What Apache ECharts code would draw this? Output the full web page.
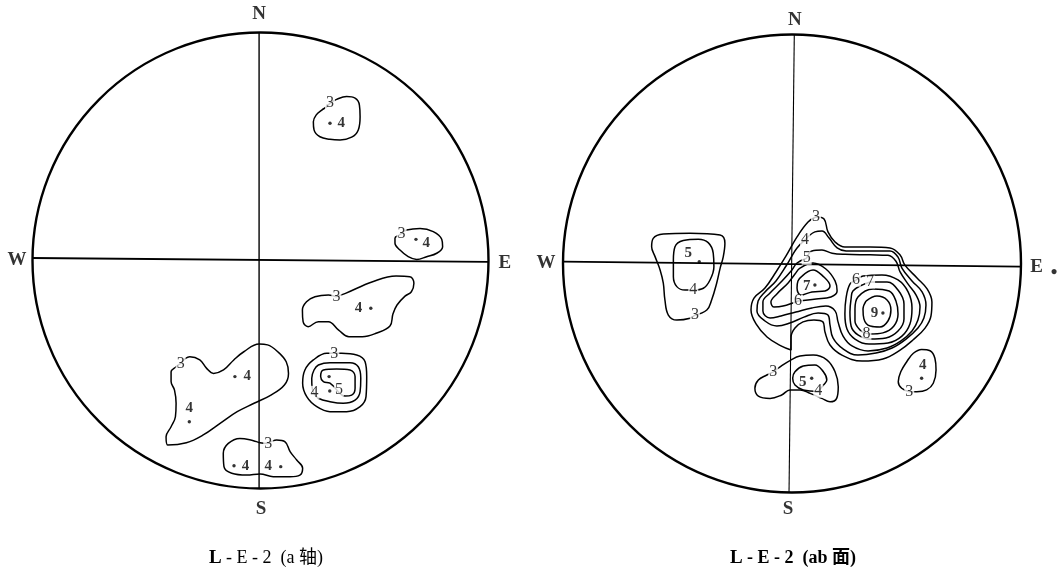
<!DOCTYPE html>
<html>
<head>
<meta charset="utf-8">
<script src="https://cdn.jsdelivr.net/npm/echarts@6/dist/echarts.min.js"></script>
<style>
  html, body { margin: 0; padding: 0; background: #fff; }
  #chart { width: 1057px; height: 576px; }
</style>
</head>
<body>
<div id="chart"></div>
<script>
// Net coordinates: the primitive circle has radius 100, east = +x, north = +y.

// ---- L-E-2 (a 轴) : contour lines ----
const aNorth3 = [[30.7,69.3],[33.6,70.9],[38.0,72.1],[41.7,71.4],[43.6,68.4],[43.9,63.3],[43.1,57.5],[40.2,54.3],[35.1,53.1],[30.7,53.4],[26.3,54.5],[23.7,57.5],[23.4,61.1],[24.6,64.0],[27.1,66.2],[29.3,67.7],[30.7,69.3]];
const aEast3 = [[62.1,12.1],[64.3,13.6],[70.2,14.3],[76.0,12.9],[79.7,9.5],[80.1,6.3],[77.5,3.4],[73.1,1.9],[68.7,0.7],[65.0,1.9],[61.4,4.8],[59.2,7.8],[59.2,10.0],[61.1,11.4],[62.1,12.1]];
const aMid3 = [[33.5,-15.7],[37.5,-14.2],[49.4,-9.1],[59.7,-6.6],[65.7,-6.9],[67.5,-9.8],[66.4,-13.5],[63.6,-15.4],[60.1,-19.3],[58.3,-23.2],[57.0,-28.5],[50.9,-31.7],[44.9,-33.2],[39.0,-33.2],[34.5,-30.3],[30.0,-26.6],[25.6,-26.6],[21.1,-28.8],[18.9,-26.6],[18.6,-21.5],[20.4,-17.9],[24.1,-15.7],[30.0,-14.9],[33.5,-15.7]];
const aSW3 = [[-34.8,-44.9],[-30.8,-42.0],[-26.4,-43.4],[-23.4,-47.1],[-20.4,-49.3],[-16.0,-47.8],[-11.5,-43.4],[-7.1,-39.8],[-0.4,-36.4],[3.3,-36.8],[7.8,-39.8],[11.5,-44.2],[12.5,-49.3],[10.7,-54.4],[4.8,-58.8],[-2.6,-62.4],[-10.0,-66.1],[-17.5,-71.2],[-24.9,-76.3],[-32.3,-79.7],[-40.5,-80.7],[-41.2,-77.1],[-39.0,-72.7],[-37.1,-68.3],[-36.8,-62.4],[-37.5,-56.6],[-39.0,-52.9],[-39.0,-48.6],[-36.8,-46.4],[-34.8,-44.9]];
const aRing3 = [[32.6,-40.5],[35.8,-40.5],[42.4,-41.2],[46.1,-44.2],[46.8,-50.7],[46.5,-59.5],[43.9,-63.9],[38.0,-66.1],[30.7,-66.1],[24.9,-63.9],[20.5,-59.5],[18.7,-53.6],[19.7,-47.8],[23.4,-43.4],[29.3,-40.5],[32.6,-40.5]];
const aRing4 = [[23.6,-58.0],[25.6,-60.2],[30.7,-61.7],[36.5,-62.4],[41.7,-61.0],[43.9,-57.3],[44.2,-51.4],[43.1,-46.4],[39.5,-44.6],[30.7,-44.6],[25.6,-45.6],[23.7,-47.8],[22.7,-51.4],[22.8,-55.0],[23.6,-58.0]];
const aRing5 = [[34.3,-57.3],[30.7,-53.6],[27.8,-52.9],[26.6,-50.7],[27.8,-47.8],[33.6,-47.4],[39.5,-47.8],[41.7,-50.7],[41.7,-55.8],[40.2,-58.8],[37.3,-59.2],[34.3,-57.3]];
const aSouth3 = [[3.6,-80.0],[7.3,-78.5],[11.0,-79.3],[13.2,-83.6],[16.1,-87.3],[18.7,-90.9],[17.5,-93.9],[13.2,-94.6],[5.8,-94.6],[0,-93.4],[-5.8,-93.9],[-12.4,-93.1],[-15.8,-90.2],[-16.1,-84.3],[-13.9,-80.0],[-8.8,-77.8],[-2.9,-78.8],[0,-79.7],[3.6,-80.0]];

// contour values written on the lines: [x, y, text]
const aLevelLabels = [[30.7,69.3,'3'],[62.1,12.1,'3'],[33.5,-15.7,'3'],[-34.8,-44.9,'3'],[32.6,-40.5,'3'],[23.9,-57.6,'4'],[34.6,-56.6,'5'],[3.6,-80.0,'3']];
// density maxima: dot position and the value printed beside it
const aPeakDots = [[30.7,60.4],[68.4,9.5],[48.6,-20.7],[-11.0,-50.7],[-31.0,-70.5],[30.3,-50.7],[30.6,-57.0],[-11.4,-89.8],[9.1,-90.2]];
const aPeakLabels = [[35.6,60.4,'4'],[72.9,7.8,'4'],[43.2,-20.7,'4'],[-5.6,-50.7,'4'],[-31.0,-64.6,'4'],[-6.4,-89.8,'4'],[3.6,-89.8,'4']];
const aCross = [[[-0.4,100],[-0.4,-100]],[[-100,1.3],[100,-0.4]]];
const aCompass = [[-0.4,108.5,'N'],[-106.6,0.4,'W'],[107.4,-0.9,'E'],[0.4,-108.8,'S']];

// ---- L-E-2 (ab 面) : contour lines ----
const abWest3 = [[-42.4,-22.5],[-44.5,-23.9],[-50.3,-24.7],[-54.0,-22.5],[-55.5,-15.9],[-56.2,-8.6],[-57.6,-2.8],[-59.8,3.0],[-61.3,7.3],[-60.6,11.0],[-56.2,12.9],[-44.5,13.2],[-31.4,12.4],[-29.3,8.8],[-30.0,3.0],[-31.4,-2.1],[-32.9,-8.6],[-35.1,-15.9],[-37.2,-20.3],[-42.4,-22.5]];
const abWest4 = [[-43.1,-11.6],[-46.7,-11.6],[-50.3,-10.1],[-51.8,-5.8],[-51.8,1.5],[-51.1,7.3],[-47.5,10.0],[-40.9,10.6],[-36.6,9.1],[-34.4,4.5],[-34.1,-1.4],[-35.8,-7.2],[-38.7,-10.8],[-43.1,-11.6]];
const abCore3 = [[10.5,20.4],[14.0,19.4],[15.7,13.8],[18.8,9.4],[23.1,7.2],[34.1,7.2],[42.8,6.8],[47.2,3.7],[49.3,-0.7],[54.6,-6.3],[59.0,-11.1],[61.1,-16.8],[60.7,-22.9],[58.1,-28.2],[52.8,-33.4],[47.2,-37.8],[39.7,-41.7],[30.6,-42.6],[21.8,-40.0],[16.6,-35.6],[14.4,-29.9],[13.5,-25.5],[9.6,-24.7],[4.8,-25.5],[1.3,-28.2],[-0.4,-32.1],[-0.4,-37.8],[-4.8,-36.0],[-10.9,-32.1],[-15.7,-26.4],[-17.9,-20.3],[-16.6,-15.1],[-11.8,-10.7],[-7.0,-3.7],[-2.6,3.3],[2.2,11.6],[7.0,18.1],[10.5,20.4]];
const abCore4 = [[5.7,10.3],[10.0,13.8],[13.1,14.2],[16.2,11.1],[19.7,6.8],[23.6,5.5],[34.1,5.5],[42.8,5.5],[46.3,2.8],[48.0,-2.0],[52.4,-7.6],[56.8,-12.4],[58.5,-18.1],[57.6,-23.8],[55.0,-28.2],[49.8,-33.0],[43.7,-36.9],[36.7,-39.1],[28.8,-40.0],[22.3,-37.3],[17.9,-32.5],[16.6,-26.9],[15.7,-22.5],[11.4,-21.6],[5.2,-23.4],[-0.9,-26.0],[-6.6,-27.3],[-11.8,-25.1],[-15.3,-20.7],[-14.8,-16.4],[-11.8,-12.4],[-7.0,-7.6],[-2.6,-1.1],[0,3.3],[2.2,6.8],[5.7,10.3]];
const abCore5 = [[6.4,2.3],[8.7,5.5],[13.1,5.9],[17.5,4.5],[23.1,4.0],[34.1,3.8],[41.9,3.6],[45.4,1.0],[47.2,-3.7],[50.7,-9.0],[54.2,-13.8],[55.9,-19.0],[55.0,-24.7],[52.4,-29.5],[47.6,-33.8],[41.5,-36.9],[33.2,-38.2],[26.2,-36.0],[22.3,-31.7],[20.1,-25.5],[18.8,-20.7],[14.8,-18.6],[8.7,-19.4],[1.7,-21.2],[-4.8,-22.9],[-9.6,-23.8],[-12.7,-20.7],[-12.7,-16.8],[-9.6,-12.9],[-4.8,-8.1],[-0.4,-3.3],[2.2,0.2],[6.4,2.3]];
const abLeft6 = [[2.6,-16.4],[-3.9,-18.6],[-7.9,-19.0],[-9.2,-16.8],[-6.6,-13.3],[-1.7,-8.5],[1.3,-4.6],[3.5,-2.0],[9.2,0.2],[14.8,-2.4],[18.8,-7.6],[19.7,-12.0],[17.0,-14.6],[10.5,-15.5],[2.6,-16.4]];
const abLeft7 = [[4.4,-5.5],[9.2,-2.8],[13.5,-5.5],[16.6,-9.8],[14.4,-12.0],[8.7,-12.4],[3.9,-13.8],[2.2,-10.7],[2.6,-7.6],[4.4,-5.5]];
const abRight6 = [[27.9,-7.3],[31.0,-5.5],[39.3,-5.0],[46.3,-7.2],[50.7,-12.4],[52.4,-19.4],[51.5,-26.4],[48.0,-31.7],[41.9,-34.7],[33.6,-35.2],[27.5,-33.0],[24.0,-28.6],[23.1,-22.1],[23.6,-15.1],[25.3,-9.0],[27.9,-7.3]];
const abRight7 = [[34.1,-8.1],[41.5,-8.1],[46.3,-11.6],[48.9,-17.7],[48.9,-24.2],[46.3,-29.5],[41.0,-32.5],[34.1,-33.0],[28.8,-31.2],[25.8,-27.3],[25.3,-21.2],[25.8,-15.5],[26.6,-12.0],[34.1,-8.1]];
const abRight8 = [[32.5,-30.5],[29.7,-29.0],[27.5,-25.1],[27.5,-19.9],[28.8,-14.6],[35.4,-11.1],[42.4,-12.0],[45.4,-16.4],[46.3,-22.1],[44.5,-27.3],[39.7,-30.3],[34.1,-30.8],[32.5,-30.5]];
const abRight9 = [[32.3,-16.4],[37.1,-14.2],[41.5,-15.9],[43.2,-20.3],[41.9,-25.1],[38.4,-27.7],[34.1,-27.3],[31.4,-24.2],[31.0,-19.9],[32.3,-16.4]];
const abSouth3 = [[-8.2,-47.3],[-5.2,-45.1],[-0.9,-42.4],[3.5,-40.4],[9.3,-40.0],[15.2,-42.1],[18.8,-47.3],[20.2,-53.8],[19.5,-58.9],[16.6,-60.4],[13.0,-58.9],[7.9,-56.7],[3.5,-55.2],[-0.9,-55.2],[-4.5,-57.4],[-9.6,-58.9],[-14.7,-57.9],[-16.2,-54.5],[-14.7,-50.9],[-11.0,-48.7],[-8.2,-47.3]];
const abSouth4 = [[11.5,-55.8],[4.9,-55.2],[1.3,-53.1],[0.3,-50.1],[1.3,-47.3],[4.9,-44.8],[10.0,-44.3],[13.7,-47.3],[15.2,-50.9],[13.7,-53.1],[11.5,-55.8]];
const abSE3 = [[51.2,-56.0],[54.5,-56.0],[58.8,-55.2],[61.7,-52.3],[62.9,-46.5],[62.4,-41.4],[60.3,-38.1],[56.6,-37.5],[53.0,-39.2],[50.1,-42.9],[47.5,-47.3],[46.4,-51.6],[47.9,-54.5],[51.2,-56.0]];

const abLevelLabels = [[-42.4,-22.5,'3'],[-43.1,-11.6,'4'],[10.5,20.4,'3'],[5.7,10.3,'4'],[6.4,2.3,'5'],[2.6,-16.4,'6'],[27.9,-7.3,'6'],[34.1,-8.1,'7'],[32.5,-30.5,'8'],[-8.2,-47.3,'3'],[11.5,-55.8,'4'],[51.2,-56.0,'3']];
const abPeakDots = [[-40.5,0.8],[10.0,-9.4],[39.7,-21.6],[8.6,-50.1],[56.6,-50.1]];
const abPeakLabels = [[-45.3,4.5,'5'],[6.4,-9.8,'7'],[36.0,-21.6,'9'],[4.7,-51.6,'5'],[57.1,-44.3,'4']];
const abCross = [[[1.0,100],[-1.3,-100]],[[-100,0.8],[100,-1.4]]];
const abCompass = [[1.3,106.5,'N'],[-107.4,0.2,'W'],[106.8,-1.4,'E'],[114.4,-4.1,'•'],[-1.7,-107.2,'S']];

const captionParts = [['L', ' - E - 2  (a 轴)'], ['L', ' - E - 2  (ab 面)']];

const INK = '#000';
const SERIF = '"Liberation Serif", "DejaVu Serif", "Noto Sans CJK SC", serif';

function contour(idx, pts) {
  return {
    type: 'line', xAxisIndex: idx, yAxisIndex: idx, data: pts,
    smooth: 0.4, symbol: 'none', silent: true, clip: false, z: 2,
    lineStyle: { color: INK, width: 1.5 }
  };
}
function cross(idx, seg, w) {
  return {
    type: 'line', xAxisIndex: idx, yAxisIndex: idx, data: seg,
    symbol: 'none', silent: true, clip: false, z: 1,
    lineStyle: { color: INK, width: w }
  };
}
function texts(idx, rows, opt) {
  return {
    type: 'scatter', xAxisIndex: idx, yAxisIndex: idx, silent: true, clip: false,
    z: opt.z || 5, symbolSize: 1, itemStyle: { color: 'rgba(0,0,0,0)' },
    data: rows.map(r => ({ value: [r[0], r[1]], name: r[2] })),
    label: Object.assign({
      show: true, position: 'inside', formatter: p => p.name,
      color: INK, fontFamily: SERIF, fontSize: 16
    }, opt.label || {})
  };
}
function dots(idx, pts) {
  return {
    type: 'scatter', xAxisIndex: idx, yAxisIndex: idx, silent: true, clip: false,
    z: 6, symbolSize: 3.4, itemStyle: { color: INK }, data: pts
  };
}

const nets = [
  { contours: [aNorth3, aEast3, aMid3, aSW3, aRing3, aRing4, aRing5, aSouth3],
    levels: aLevelLabels, peaks: aPeakDots, peakText: aPeakLabels, cross: aCross,
    compass: aCompass, crossW: [1.4, 1.9] },
  { contours: [abWest3, abWest4, abCore3, abCore4, abCore5, abLeft6, abLeft7,
               abRight6, abRight7, abRight8, abRight9, abSouth3, abSouth4, abSE3],
    levels: abLevelLabels, peaks: abPeakDots, peakText: abPeakLabels, cross: abCross,
    compass: abCompass, crossW: [1.1, 1.7] }
];

const series = [];
nets.forEach((n, i) => {
  n.cross.forEach((seg, k) => series.push(cross(i, seg, n.crossW[k])));
  n.contours.forEach(c => series.push(contour(i, c)));
  series.push(texts(i, n.levels, { label: { backgroundColor: '#fff', padding: [0, 1], lineHeight: 13 } }));
  series.push(texts(i, n.peakText, { label: { fontWeight: 'bold', fontSize: 15 } }));
  series.push(dots(i, n.peaks));
  series.push(texts(i, n.compass, { label: { fontSize: 19, fontWeight: 'bold' } }));
});

const axisBase = { type: 'value', min: -100, max: 100, show: false };
const ringAxis = (i) => ({
  polarIndex: i, type: 'value', min: 0, max: 360, startAngle: 90,
  axisLine: { show: true, lineStyle: { color: INK, width: 2.4 } },
  axisTick: { show: false }, axisLabel: { show: false }, splitLine: { show: false }
});

function caption(i, x, bold) {
  return {
    type: 'text', x: x, y: 558,
    style: {
      text: '{l|' + captionParts[i][0] + '}{r|' + captionParts[i][1] + '}',
      align: 'center', verticalAlign: 'middle', textAlign: 'center', textVerticalAlign: 'middle',
      fill: INK,
      rich: {
        l: { fontFamily: SERIF, fontSize: 19, fontWeight: 'bold', fill: INK },
        r: { fontFamily: SERIF, fontSize: 18, fontWeight: bold ? 'bold' : 'normal', fill: INK }
      }
    }
  };
}

const chart = echarts.init(document.getElementById('chart'), null, { renderer: 'canvas' });
chart.setOption({
  animation: false,
  backgroundColor: '#fff',
  grid: [
    { left: 32, top: 33, width: 456, height: 456 },
    { left: 563, top: 34.5, width: 458, height: 458 }
  ],
  xAxis: [Object.assign({ gridIndex: 0 }, axisBase), Object.assign({ gridIndex: 1 }, axisBase)],
  yAxis: [Object.assign({ gridIndex: 0 }, axisBase), Object.assign({ gridIndex: 1 }, axisBase)],
  polar: [
    { center: [260.5, 260.5], radius: 228 },
    { center: [792, 263.5], radius: 229 }
  ],
  angleAxis: [ringAxis(0), ringAxis(1)],
  radiusAxis: [
    { polarIndex: 0, type: 'value', min: 0, max: 1, show: false },
    { polarIndex: 1, type: 'value', min: 0, max: 1, show: false }
  ],
  graphic: [caption(0, 266, false), caption(1, 793, true)],
  series: series
});
</script>
</body>
</html>
